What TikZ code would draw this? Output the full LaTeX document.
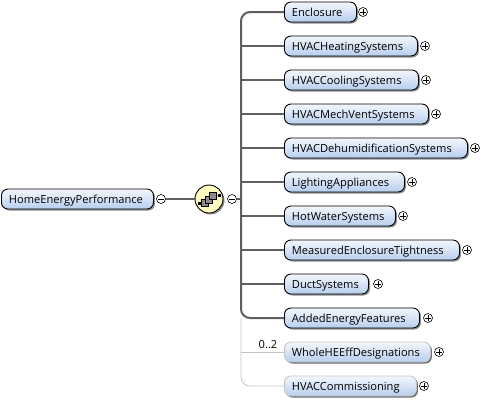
\documentclass[tikz,border=0pt]{standalone}
\usepackage{fontspec}
\setmainfont{Open Sans}
\usetikzlibrary{shadows,calc}
\definecolor{wire}{HTML}{5F5F5F}
\definecolor{wireopt}{HTML}{C4C4C4}
\definecolor{boxtop}{HTML}{F4F7FC}
\definecolor{boxbot}{HTML}{B7CEEE}
\newcommand{\lblfont}{\fontsize{11.1}{12}\selectfont}
\tikzset{
  x=1pt,y=-1pt,
  elem/.style={rounded corners=6.5pt,draw=black,line width=0.9pt,top color=boxtop,bottom color=boxbot,
    minimum height=20pt,inner ysep=0pt,inner xsep=7.5pt,text width=#1pt-15pt,text height=9pt,text depth=1pt,align=left,anchor=west,font=\lblfont,text=black,
    execute at begin node={\hyphenpenalty=10000\exhyphenpenalty=10000},
    drop shadow={shadow xshift=1.5pt,shadow yshift=-1.5pt,fill=black,opacity=0.45}},
  optelem/.style={elem=#1,draw=wireopt,line width=0.8pt,drop shadow={shadow xshift=1.5pt,shadow yshift=-1.5pt,fill=black,opacity=0.2}},
  tog/.style={circle,draw=black,fill=white,line width=0.6pt,minimum size=9pt,inner sep=0pt},
  mand/.style={draw=wire,line width=2pt},
  opt/.style={draw=wireopt,line width=0.8pt},
  glyph/.style={draw=black,line width=0.6pt},
  seq/.style={circle,draw=black,fill=yellow!25!white,line width=0.9pt,minimum size=28pt,inner sep=0pt,
    drop shadow={shadow xshift=1.5pt,shadow yshift=-1.5pt,fill=black,opacity=0.45}},
  sqr/.style={draw=black,fill=black!45,line width=0.5pt,minimum size=7pt,inner sep=0pt},
  dotn/.style={fill=black,minimum size=3pt,inner sep=0pt}
}
\newcommand{\plusmark}[1]{\draw[glyph] ($(#1)+(-2.8,0)$) -- ($(#1)+(2.8,0)$) ($(#1)+(0,-2.8)$) -- ($(#1)+(0,2.8)$);}
\newcommand{\minusmark}[1]{\draw[glyph] ($(#1)+(-2.8,0)$) -- ($(#1)+(2.8,0)$);}
\begin{document}
\begin{tikzpicture}
\useasboundingbox (0,0) rectangle (499,402);
\coordinate (top) at (241,12);
\coordinate (bot) at (241,386);
\node[seq] (sq) at (209,199) {};
\node[elem=152] (root) at (1,199) {HomeEnergyPerformance};
\node[tog] (m1) at (161,199) {};
\node[tog] (m2) at (232,199) {};
\minusmark{m1}\minusmark{m2}
\draw[mand] (m1) -- (sq);
\node[sqr] (s1) at (205,203) {};
\node[sqr] (s2) at (209,199.5) {};
\node[sqr] (s3) at (213,196) {};
\node[dotn] (d1) at (199.5,203.5) {};
\node[dotn] (d2) at (219,195.5) {};
\draw[black,line width=.6pt] (d1) -- (s1) (s3) -- (d2);

\node[elem=72]  (a)  at (284,12)  {Enclosure};
\node[elem=133] (b)  at (284,46)  {HVACHeatingSystems};
\node[elem=134] (c)  at (284,80)  {HVACCoolingSystems};
\node[elem=144] (d)  at (284,114) {HVACMechVentSystems};
\node[elem=183] (e)  at (284,148) {HVACDehumidificationSystems};
\node[elem=120] (f)  at (284,182) {LightingAppliances};
\node[elem=111] (g)  at (284,216) {HotWaterSystems};
\node[elem=175] (h)  at (284,250) {MeasuredEnclosureTightness};
\node[elem=84]  (i)  at (284,284) {DuctSystems};
\node[elem=135] (j)  at (284,318) {AddedEnergyFeatures};
\node[optelem=146] (k) at (284,352) {WholeHEEffDesignations};
\node[optelem=132] (l) at (284,386) {HVACCommissioning};

\foreach \n/\xx/\yy in {a/363/12,b/425/46,c/426/80,d/436/114,e/475/148,f/412/182,g/403/216,h/467/250,i/378/284,j/428/318,k/439/352,l/424/386}{
  \node[tog] (p\n) at (\xx,\yy) {};
  \plusmark{p\n}
}
\draw[opt] (241,0 |- k.west) -- (k.west);
\draw[opt,rounded corners=9pt] (241,318) -- (bot) -- (l.west);
\draw[mand,rounded corners=9pt] (a.west) -- (top) -- (241,318) -- (j.west);
\draw[mand] (m2) -- (241,199);
\foreach \n in {b,c,d,e,f,g,h,i}{\draw[mand] (241,0 |- \n.west) -- (\n.west);}
\node[font=\lblfont,text=black] (occ) at (268,345) {0..2};
\end{tikzpicture}
\end{document}
